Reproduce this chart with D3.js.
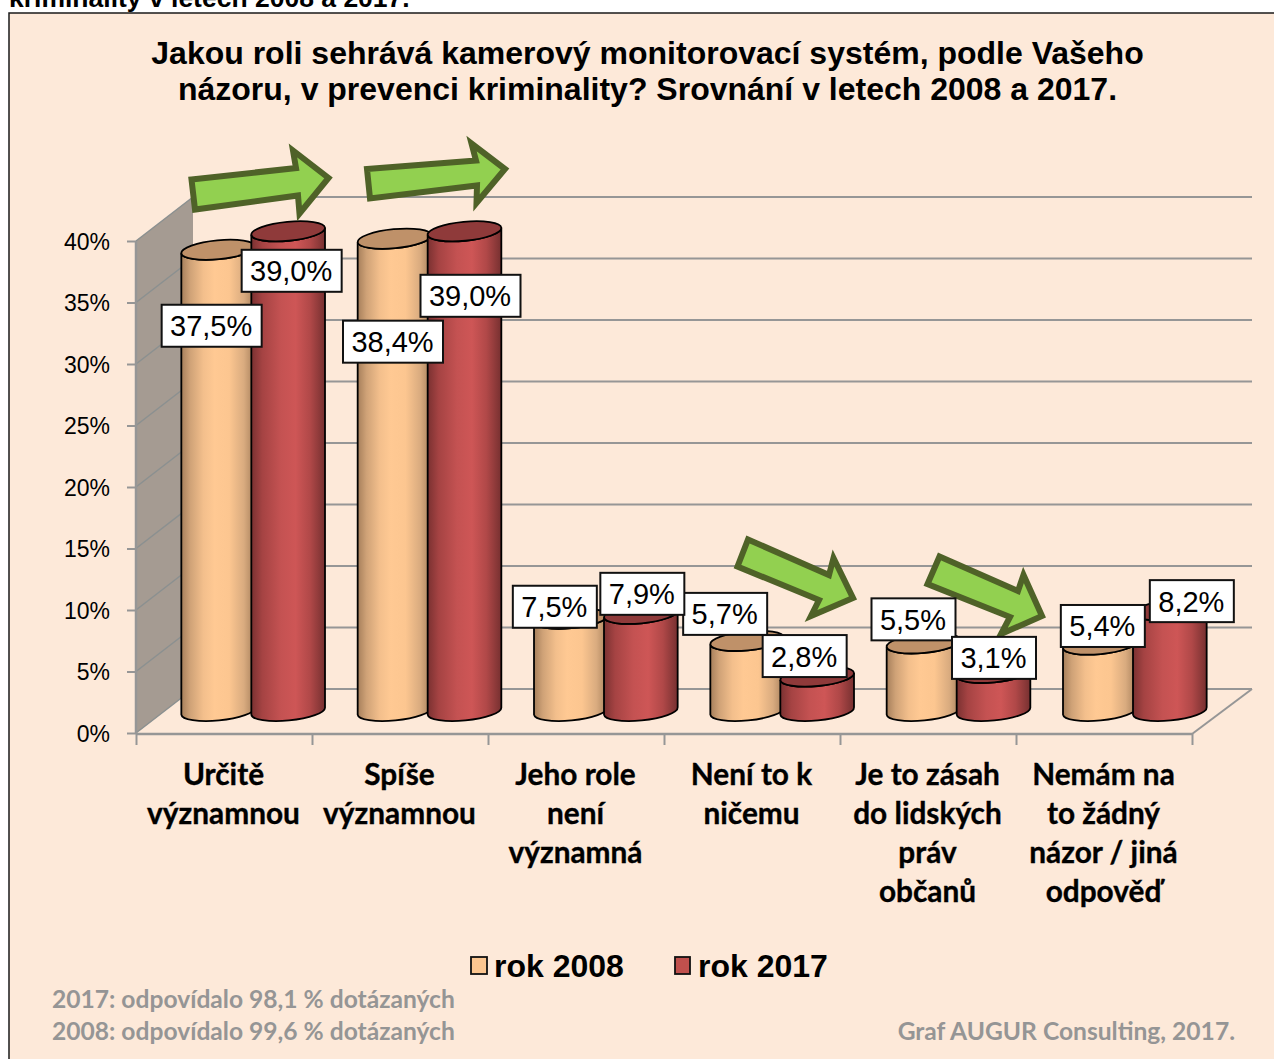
<!DOCTYPE html>
<html><head><meta charset="utf-8">
<script src="https://cdn.jsdelivr.net/npm/d3@7"></script>
<style>html,body{margin:0;padding:0;background:#fff;overflow:hidden}svg{display:block}</style>
</head><body><svg id="c" width="1274" height="1059"></svg>
<script>
const categories=[["Určitě","významnou"],["Spíše","významnou"],["Jeho role","není","významná"],["Není to k","ničemu"],["Je to zásah","do lidských","práv","občanů"],["Nemám na","to žádný","názor / jiná","odpověď"]];
const series=["rok 2008","rok 2017"];
const values2008=[37.5,38.4,7.5,5.7,5.5,5.4];
const values2017=[39.0,39.0,7.9,2.8,3.1,8.2];
const yTicks=[0,5,10,15,20,25,30,35,40];
const titleLines=["Jakou roli sehrává kamerový monitorovací systém, podle Vašeho","názoru, v prevenci kriminality? Srovnání v letech 2008 a 2017."];

// layout only
const labelOffsets2008=[[-6.5,76],[-1.5,103],[-16,-12],[-22,-27],[-10,-24],[3,-18.6]];
const labelOffsets2017=[[3.5,39.5],[6,64.5],[1.5,-20],[-12.5,-20.5],[.5,-15],[22,-9]];
const arrows=[
 [[191.5,179.5],[296,168],[293,150.5],[328.5,178],[299.5,213.5],[298,195.5],[195,209.5]],
 [[367,169],[476,160.5],[471.5,143.5],[505,169],[476.5,203],[477,185.5],[370,198.5]],
 [[748,539.5],[829,575],[833.5,558],[853,598],[811,616],[819,600],[737.5,566.5]],
 [[939.5,556.5],[1018,591],[1023.5,575],[1042,616],[1001,634],[1010,617],[927.5,584]]
];

const svg=d3.select("#c");
const defs=svg.append("defs");
function grad(id,stops){const g=defs.append("linearGradient").attr("id",id);
 stops.forEach(s=>g.append("stop").attr("offset",s[0]).attr("stop-color",s[1]));}
grad("g0",[[0,"#a67f5b"],[.12,"#cfa277"],[.3,"#f3bf8c"],[.45,"#ffc993"],[.65,"#fcc690"],[.85,"#d9ab7f"],[1,"#a67f5b"]]);
grad("g1",[[0,"#7a3131"],[.15,"#a54343"],[.4,"#c45252"],[.6,"#ce5656"],[.8,"#b04848"],[1,"#763030"]]);
const bodyFill=["url(#g0)","url(#g1)"], topFill=["#bf9169","#8f3a3a"], swatch=["#fcc690","#c0504d"];

svg.append("rect").attr("x",9).attr("y",13).attr("width",1300).attr("height",1100).attr("fill","#fde9d9").attr("stroke","#1a1a1a").attr("stroke-width",1.5);
const SANS="'Liberation Sans',Arial,sans-serif", CAL="Lato,'Open Sans',sans-serif";

svg.append("text").attr("x",9).attr("y",7).attr("font-family",SANS).attr("font-weight","bold").attr("font-size",26.5).attr("fill","#000").text("kriminality v letech 2008 a 2017.");
svg.append("g").selectAll("text").data(titleLines).join("text").attr("x",647.5).attr("y",(d,i)=>64+i*36)
 .attr("text-anchor","middle").attr("font-family",SANS).attr("font-weight","bold").attr("font-size",32).attr("fill","#000").text(d=>d);

const depthX=57, depthY=44;
const y=d3.scaleLinear().domain([0,40]).range([733,241]);
const x=d3.scaleBand().domain(d3.range(categories.length)).range([136,1192]);
const xBars=d3.scaleBand().domain(d3.range(categories.length)).range([136.5,1194.5]);
const x1=d3.scaleBand().domain([0,1]).range([-70,70]);
const axisColor="#969696";

// wall
const g=svg.append("g");
g.append("path").attr("d",d3.line()([[x.range()[0],y(40)],[x.range()[0]+depthX,y(40)-depthY],[x.range()[0]+depthX,y(0)-depthY],[x.range()[0],y(0)]])).attr("fill","#a59b92");
g.selectAll(".wl").data(yTicks).join("line").attr("x1",136).attr("y1",d=>y(d)).attr("x2",136+depthX).attr("y2",d=>y(d)-depthY).attr("stroke","#8b9090").attr("stroke-width",1.5);
g.selectAll(".bk").data(yTicks).join("line").attr("x1",136+depthX).attr("y1",d=>y(d)-depthY).attr("x2",1192+depthX+3).attr("y2",d=>y(d)-depthY).attr("stroke",axisColor).attr("stroke-width",2.2);
g.append("line").attr("x1",1192).attr("y1",y(0)+1).attr("x2",1192+depthX+3).attr("y2",y(0)-depthY).attr("stroke",axisColor).attr("stroke-width",2);

// axes
const ay=d3.axisLeft(y).tickValues(yTicks).tickSize(9).tickPadding(17).tickFormat(d=>d+"%");
const gy=svg.append("g").attr("transform","translate(136,0)").call(ay);
gy.select(".domain").attr("stroke",axisColor).attr("stroke-width",2.5).attr("d",`M0,${y(40)}V${y(0)}`);
gy.selectAll("line").attr("stroke",axisColor).attr("stroke-width",2);
gy.selectAll("text").attr("font-family",SANS).attr("font-size",23).attr("fill","#000").attr("dy","0.36em");
const edges=d3.range(categories.length+1).map(i=>136+i*x.bandwidth());
const ax=d3.axisBottom(d3.scaleLinear().domain([136,1192]).range([136,1192])).tickValues(edges).tickSize(11).tickFormat("");
const gx=svg.append("g").attr("transform",`translate(0,${y(0)+1})`).call(ax);
gx.select(".domain").attr("stroke",axisColor).attr("stroke-width",2.5).attr("d","M136,0H1192");
gx.selectAll("line").attr("stroke",axisColor).attr("stroke-width",2);

// category labels
categories.forEach((lines,i)=>{
 svg.append("text").attr("font-family",CAL).attr("font-weight","bold").attr("font-size",29.8).attr("fill","#000").attr("stroke","#000").attr("stroke-width",.35).attr("text-anchor","middle")
 .selectAll("tspan").data(lines).join("tspan").attr("x",x(i)+x.bandwidth()/2-.5).attr("y",(d,k)=>785+k*39).text(d=>d);
});

// cylinders
const rx=37, ry=9.5, rot=-5.5, ex=rx*Math.cos(rot*Math.PI/180), ey=rx*Math.sin(-rot*Math.PI/180);
const topY=v=>y(v)-22, cxOf=(i,s)=>xBars(i)+xBars.bandwidth()/2+depthX/2+x1(s)+x1.bandwidth()/2;
const all=[values2008,values2017];
const bars=svg.append("g");
categories.forEach((c,i)=>{
 [0,1].forEach(s=>{
  const v=all[s][i], cx=cxOf(i,s), t=topY(v), b=topY(0);
  bars.append("path").attr("d",`M${cx-ex},${t+ey}L${cx-ex},${b+ey}A${rx},${ry} ${rot} 0 0 ${cx+ex},${b-ey}L${cx+ex},${t-ey}A${rx},${ry} ${rot} 0 1 ${cx-ex},${t+ey}Z`)
   .attr("fill",bodyFill[s]).attr("stroke","#000").attr("stroke-width",1.8);
  bars.append("ellipse").attr("cx",0).attr("cy",0).attr("rx",rx).attr("ry",ry).attr("transform",`translate(${cx},${t}) rotate(${rot})`)
   .attr("fill",topFill[s]).attr("stroke","#000").attr("stroke-width",1.8);
 });
});

// arrows
svg.append("g").selectAll("path").data(arrows).join("path").attr("d",d=>d3.line()(d)+"Z").attr("fill","#92d050").attr("stroke","#4f6228").attr("stroke-width",6).attr("stroke-linejoin","miter");

// data labels
const labels=svg.append("g");
[labelOffsets2008,labelOffsets2017].forEach((off,s)=>{
 all[s].forEach((v,i)=>{
  const txt=v.toFixed(1).replace(".",",")+"%";
  const w=v>=10?100:84,h=42, cx=cxOf(i,s)+off[i][0], cy=topY(v)+off[i][1];
  labels.append("rect").attr("x",cx-w/2).attr("y",cy-h/2).attr("width",w).attr("height",h).attr("fill","#fff").attr("stroke","#111").attr("stroke-width",2);
  labels.append("text").attr("x",cx-.5).attr("y",cy+10.5).attr("text-anchor","middle").attr("font-family",SANS).attr("font-size",29).attr("fill","#000").text(txt);
 });
});

// legend
const legendX=[471,675];
series.forEach((n,i)=>{
 svg.append("rect").attr("x",legendX[i]).attr("y",957).attr("width",i?15:16).attr("height",17).attr("fill",swatch[i]).attr("stroke","#111").attr("stroke-width",1.8);
 svg.append("text").attr("x",legendX[i]+23).attr("y",977).attr("font-family",SANS).attr("font-weight","bold").attr("font-size",32).attr("fill","#000").text(n);
});

// notes
const noteStyle=s=>s.attr("font-family",CAL).attr("font-weight","bold").attr("font-size",24.6).attr("fill","#959595");
noteStyle(svg.append("text").attr("x",52).attr("y",1008).text("2017: odpovídalo 98,1 % dotázaných"));
noteStyle(svg.append("text").attr("x",52).attr("y",1040).text("2008: odpovídalo 99,6 % dotázaných"));
noteStyle(svg.append("text").attr("x",1235).attr("y",1040).attr("text-anchor","end").attr("font-size",24).text("Graf AUGUR Consulting, 2017."));
</script></body></html>
